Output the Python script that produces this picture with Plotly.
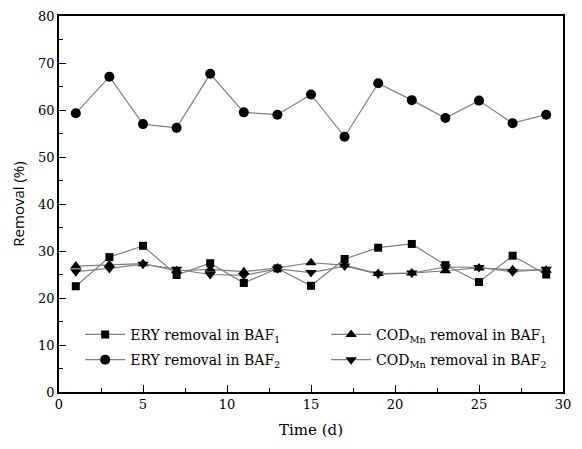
import plotly.graph_objects as go

days = [1, 3, 5, 7, 9, 11, 13, 15, 17, 19, 21, 23, 25, 27, 29]
ery_baf1 = [22.5, 28.7, 31.1, 24.9, 27.4, 23.2, 26.3, 22.6, 28.3, 30.7, 31.5, 27.0, 23.4, 29.0, 25.0]
ery_baf2 = [59.3, 67.1, 57.0, 56.2, 67.7, 59.5, 59.0, 63.3, 54.3, 65.7, 62.1, 58.3, 62.0, 57.2, 59.0]
cod_baf1 = [26.8, 27.1, 27.3, 25.8, 26.1, 25.6, 26.4, 27.5, 27.0, 25.2, 25.3, 25.8, 26.4, 26.0, 25.9]
cod_baf2 = [25.6, 26.3, 27.2, 26.1, 25.0, 24.8, 26.2, 25.4, 26.8, 25.1, 25.3, 26.6, 26.5, 25.6, 26.1]

names = [
    "ERY removal in BAF<sub>1</sub>",
    "COD<sub>Mn</sub> removal in BAF<sub>1</sub>",
    "ERY removal in BAF<sub>2</sub>",
    "COD<sub>Mn</sub> removal in BAF<sub>2</sub>",
]

series = [
    (ery_baf1, "square", 8, "legend"),
    (cod_baf1, "triangle-up", 10, "legend"),
    (ery_baf2, "circle", 10, "legend2"),
    (cod_baf2, "triangle-down", 10, "legend2"),
]

fig = go.Figure()
for (vals, sym, sz, lg), nm in zip(series, names):
    fig.add_trace(go.Scatter(
        x=days, y=vals, name=nm, mode="lines+markers", legend=lg,
        line=dict(color="#808080", width=1.2),
        marker=dict(symbol=sym, size=sz, color="black"),
    ))

serif = "DejaVu Serif"
axis_common = dict(
    showline=True, linecolor="black", linewidth=1.5, mirror=True,
    ticks="inside", ticklen=7, tickwidth=1.2, tickcolor="black",
    showgrid=False, zeroline=False, automargin=False,
    tickfont=dict(family=serif, size=13, color="black"),
)

fig.update_xaxes(
    range=[0, 30], dtick=5, tick0=0,
    minor=dict(ticks="inside", ticklen=4, tickwidth=1.2, tickcolor="black", dtick=2.5),
    title=dict(text="Time (d)", font=dict(family=serif, size=15, color="black"), standoff=13),
    **axis_common,
)
fig.update_yaxes(
    range=[0, 80], dtick=10, tick0=0,
    minor=dict(ticks="inside", ticklen=4, tickwidth=1.2, tickcolor="black", dtick=5),
    title=dict(text="Removal (%)", font=dict(family="Open Sans", size=15, color="black"), standoff=10),
    **axis_common,
)

legend_common = dict(
    orientation="h", xanchor="left", yanchor="middle",
    entrywidth=0.488, entrywidthmode="fraction",
    font=dict(family=serif, size=14, color="black"),
    bgcolor="rgba(0,0,0,0)", itemwidth=40,
)

# the page body adds an 8 px offset, compensated in the margins
fig.update_layout(
    width=582, height=449,
    margin=dict(l=51, r=27, t=8, b=65),
    plot_bgcolor="white", paper_bgcolor="white",
    legend=dict(x=0.042, y=0.152, **legend_common),
    legend2=dict(x=0.042, y=0.085, **legend_common),
)

fig.write_html("out.html")
